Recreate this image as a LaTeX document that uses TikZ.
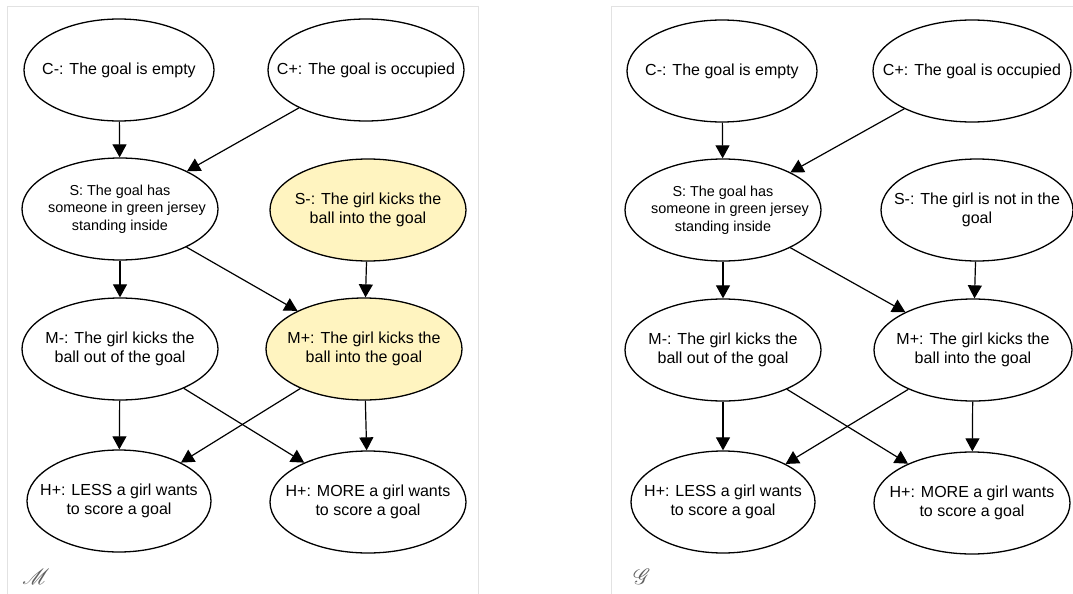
\documentclass[tikz,border=0pt]{standalone}
\usepackage{fontspec}
\setmainfont{Liberation Sans}
\usepackage{mathrsfs}
\usepackage{graphicx}
\usetikzlibrary{shapes.geometric,arrows.meta}
\definecolor{hlcol}{RGB}{255,244,192}
\definecolor{framegray}{RGB}{226,226,226}
\definecolor{lettergray}{RGB}{95,95,95}
\begin{document}
\begin{tikzpicture}[x=1pt,y=-1pt,
  ev/.style={ellipse, draw, line width=1.3pt, inner xsep=-60pt, inner ysep=-30pt, align=center,
     minimum height=102pt, font=\fontsize{16}{19.2}\selectfont},
  evs/.style={ev, font=\fontsize{14.4}{17.6}\selectfont},
  hl/.style={fill=hlcol},
  arr/.style={-{Triangle[width=14pt,length=13pt]}, line width=1.2pt},
  frame/.style={draw=framegray, line width=1pt},
  letter/.style={text=lettergray, inner sep=0pt}]
\useasboundingbox (0,0) rectangle (1073,594);
\fill[white] (0,0) rectangle (1073,594);
% frames
\draw[frame] (7,600) -- (7,7) -- (478,7) -- (478,600);
\draw[frame] (611,600) -- (611,7) -- (1080,7);

% ---------- left panel ----------
\node[ev, minimum width=190pt] (lcm) at (119,70) {C-: The goal is empty};
\node[ev, minimum width=196pt] (lcp) at (366,70) {C+: The goal is occupied};
\node[evs, minimum width=196pt] (ls) at (120,209) {S: The goal has\\\hspace*{14pt}someone in green jersey\\standing inside};
\node[ev, hl, minimum width=196pt] (lsm) at (368,210) {S-: The girl kicks the\\ball into the goal};
\node[ev, minimum width=196pt] (lmm) at (120,349) {M-: The girl kicks the\\ball out of the goal};
\node[ev, hl, minimum width=196pt] (lmp) at (364,349) {M+: The girl kicks the\\ball into the goal};
\node[ev, minimum width=184pt] (lhl) at (119,501) {H+: LESS a girl wants\\to score a goal};
\node[ev, minimum width=196pt] (lhm) at (368,502) {H+: MORE a girl wants\\to score a goal};
\node[letter] (lm) at (36,577) {\scalebox{2.2}{$\mathscr{M}$}};

\draw[arr] (lcm) -- (ls);
\draw[arr] (lcp) -- (ls);
\draw[arr] (ls) -- (lmm);
\draw[arr] (ls) -- (lmp);
\draw[arr] (lsm) -- (lmp);
\draw[arr] (lmm) -- (lhl);
\draw[arr] (lmm) -- (lhm);
\draw[arr] (lmp) -- (lhl);
\draw[arr] (lmp) -- (lhm);

% ---------- right panel ----------
\node[ev, minimum width=190pt] (rcm) at (722,71) {C-: The goal is empty};
\node[ev, minimum width=198pt] (rcp) at (972,71) {C+: The goal is occupied};
\node[evs, minimum width=196pt] (rs) at (723,210) {S: The goal has\\\hspace*{14pt}someone in green jersey\\standing inside};
\node[ev, minimum width=192pt] (rsm) at (977,210) {S-: The girl is not in the\\goal};
\node[ev, minimum width=196pt] (rmm) at (723,350) {M-: The girl kicks the\\ball out of the goal};
\node[ev, minimum width=198pt] (rmp) at (973,350) {M+: The girl kicks the\\ball into the goal};
\node[ev, minimum width=184pt] (rhl) at (723,502) {H+: LESS a girl wants\\to score a goal};
\node[ev, minimum width=196pt] (rhm) at (972,503) {H+: MORE a girl wants\\to score a goal};
\node[letter] (rg) at (642,577) {\scalebox{2.2}{$\mathscr{G}$}};

\draw[arr] (rcm) -- (rs);
\draw[arr] (rcp) -- (rs);
\draw[arr] (rs) -- (rmm);
\draw[arr] (rs) -- (rmp);
\draw[arr] (rsm) -- (rmp);
\draw[arr] (rmm) -- (rhl);
\draw[arr] (rmm) -- (rhm);
\draw[arr] (rmp) -- (rhl);
\draw[arr] (rmp) -- (rhm);
\end{tikzpicture}
\end{document}
